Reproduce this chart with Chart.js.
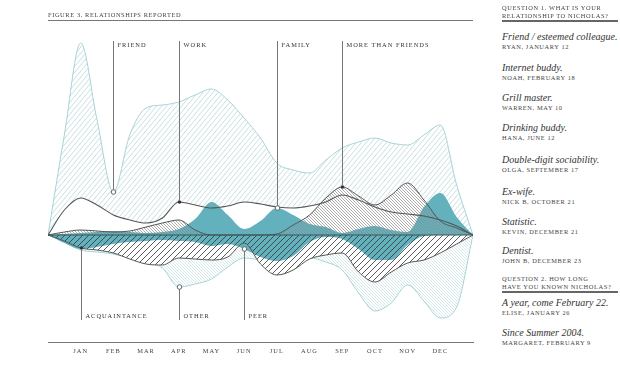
<!DOCTYPE html>
<html>
<head>
<meta charset="utf-8">
<script src="https://cdn.jsdelivr.net/npm/chart.js@4.4.0/dist/chart.umd.min.js"></script>
<style>
  body { margin:0; width:620px; height:372px; background:#fff; position:relative; overflow:hidden; font-family:"Liberation Serif", serif; }
  #wrap { position:absolute; left:0; top:0; width:480px; height:372px; }
  .caps { position:absolute; font-size:6.4px; letter-spacing:0.6px; color:#444; white-space:nowrap; line-height:8px; }
  .it { position:absolute; font-style:italic; font-size:10px; color:#333; white-space:nowrap; line-height:12px; }
  .rule { position:absolute; height:1px; background:#777; }
</style>
</head>
<body>
<div id="wrap"><canvas id="myChart" width="480" height="372"></canvas></div>
<div class="caps" style="left:48px;top:11px">FIGURE 3. RELATIONSHIPS REPORTED</div>
<div class="rule" style="left:48px;top:20px;width:425px"></div>
<div id="side"></div>
<script>
// months along the bottom
var months = ['JAN','FEB','MAR','APR','MAY','JUN','JUL','AUG','SEP','OCT','NOV','DEC'];
// half month steps, -1 = before jan, 12 = after dec
var xs = [-1,-0.5,0,0.5,1,1.5,2,2.5,3,3.5,4,4.5,5,5.5,6,6.5,7,7.5,8,8.5,9,9.5,10,10.5,11,11.5,12];

// above the line
var friend = [0,100,192,115,43,100,127,130,133,140,146,135,117,97,72,65,62,75,87,93,97,92,90,100,110,50,0];
var work = [0,25,37,30,20,15,12,17,33,30,27,29,33,31,28,27,29,33,40,35,28,23,21,19,15,9,0];
var family = [0,1,2,3,4,3,2,3,6,16,33,20,6,14,27,20,11,8,2,6,9,5,3,28,42,18,0];
var moreThanFriends = [0,3,5,4,3,4,8,12,15,5,0,0,0,0,1,10,20,37,48,39,30,40,52,35,14,7,0];
// below the line
var acquaintance = [0,-6,-13,-15,-18,-24,-29,-30,-23,-24,-25,-22,-8,-29,-40,-35,-24,-20,-18,-37,-47,-37,-28,-25,-18,-9,0];
var other = [0,-7,-15,-17,-19,-23,-27,-33,-52,-49,-44,-32,-23,-25,-28,-25,-23,-27,-35,-58,-76,-68,-50,-66,-83,-72,0];
var peer = [0,-8,-14,-12,-9,-7,-6,-5,-6,-7,-11,-9,-14,-22,-26,-21,-7,-2,-4,-14,-25,-25,-10,-1,0,0,0];

// callouts
var calloutNames = ['FRIEND','WORK','FAMILY','MORE THAN FRIENDS','ACQUAINTANCE','OTHER','PEER'];
var calloutMonths = [1,3,6,8,0,3,5];

// side panel text
var q1 = ['QUESTION 1. WHAT IS YOUR','RELATIONSHIP TO NICHOLAS?'];
var answers1 = ['Friend / esteemed colleague.','Internet buddy.','Grill master.','Drinking buddy.','Double-digit sociability.','Ex-wife.','Statistic.','Dentist.'];
var names1 = ['RYAN, JANUARY 12','NOAH, FEBRUARY 18','WARREN, MAY 10','HANA, JUNE 12','OLGA, SEPTEMBER 17','NICK B, OCTOBER 21','KEVIN, DECEMBER 21','JOHN B, DECEMBER 23'];
var q2 = ['QUESTION 2. HOW LONG','HAVE YOU KNOWN NICHOLAS?'];
var answers2 = ['A year, come February 22.','Since Summer 2004.'];
var names2 = ['ELISE, JANUARY 26','MARGARET, FEBRUARY 9'];

var TEAL = '#62b1bd';
var LIGHT = '#a9d2d7';
var DARK = '#555';

// side panel
var side = document.getElementById('side');
var html = '';
function capsAt(t, top) { return '<div class="caps" style="left:502px;top:' + top + 'px">' + t + '</div>'; }
function itAt(t, top) { return '<div class="it" style="left:502px;top:' + top + 'px">' + t + '</div>'; }
html += capsAt(q1[0], 4) + capsAt(q1[1], 12);
html += '<div class="rule" style="left:502px;top:20px;width:116px;height:1.5px;background:#666"></div>';
var tops1 = [31, 62, 92, 122, 154, 186, 216, 245];
for (var i = 0; i < answers1.length; i++) {
  html += itAt(answers1[i], tops1[i]) + capsAt(names1[i], tops1[i] + 12);
}
html += capsAt(q2[0], 275) + capsAt(q2[1], 283);
html += '<div class="rule" style="left:502px;top:291px;width:116px;height:1.5px;background:#666"></div>';
var tops2 = [297, 327];
for (var j = 0; j < answers2.length; j++) {
  html += itAt(answers2[j], tops2[j]) + capsAt(names2[j], tops2[j] + 12);
}
side.innerHTML = html;

// diagonal hatch patterns
function hatch(color, w, h, lw, dir) {
  var c = document.createElement('canvas');
  c.width = w; c.height = h;
  var g = c.getContext('2d');
  g.strokeStyle = color; g.lineWidth = lw;
  g.beginPath();
  for (var dx = -w; dx <= w; dx += w) {
    if (dir > 0) { g.moveTo(dx, h); g.lineTo(dx + w, 0); }
    else { g.moveTo(dx, 0); g.lineTo(dx + w, h); }
  }
  g.stroke();
  return g.createPattern(c, 'repeat');
}

function pts(arr) { return xs.map(function (x, i) { return { x: x, y: arr[i] }; }); }

function area(data, bg, line, lw, order) {
  return {
    data: pts(data), backgroundColor: bg, borderColor: line || 'rgba(0,0,0,0)',
    borderWidth: line ? lw : 0, fill: bg ? 'origin' : false, pointRadius: 0,
    cubicInterpolationMode: 'monotone', order: order
  };
}

var datasets = [
  area(work, null, DARK, 1.1, 1),                                   // work line on top
  area(moreThanFriends, hatch('#8a8a8a', 3, 3, 0.7, -1), DARK, 1, 2),
  area(acquaintance, hatch('#333', 6, 6, 0.8, 1), DARK, 1, 2),
  area(family, TEAL, null, 0, 3),
  area(peer, TEAL, null, 0, 3),
  area(moreThanFriends, '#fff', null, 0, 4),
  area(work, '#fff', null, 0, 5),
  area(acquaintance, '#fff', null, 0, 5),
  area(friend, hatch('#b8d7db', 5, 6, 0.8, 1), LIGHT, 1, 6),
  area(other, hatch('#b8d8dc', 3, 3, 0.6, -1), LIGHT, 1, 6)
];
// which series each callout points at, and open/filled marker
var calloutData = [friend, work, family, moreThanFriends, acquaintance, other, peer];
var calloutOpen = [true, false, true, false, false, true, true];

var callouts = {
  id: 'callouts',
  beforeDraw: function (chart) { chart.ctx.letterSpacing = '1px'; },
  afterDatasetsDraw: function (chart) {
    var ctx = chart.ctx, xS = chart.scales.x, yS = chart.scales.y, a = chart.chartArea;
    ctx.save();
    var y0 = yS.getPixelForValue(0);
    ctx.strokeStyle = '#35565b'; ctx.lineWidth = 1.2;
    ctx.beginPath(); ctx.moveTo(a.left, y0); ctx.lineTo(a.right, y0); ctx.stroke();

    ctx.font = '6.4px "Liberation Serif"';
    ctx.textBaseline = 'middle'; ctx.textAlign = 'left';
    ctx.letterSpacing = '1px';
    for (var i = 0; i < calloutNames.length; i++) {
      var m = calloutMonths[i];
      var v = calloutData[i][xs.indexOf(m)];
      var px = Math.round(xS.getPixelForValue(m)) + 0.5;
      var py = yS.getPixelForValue(v);
      var up = i < 4;
      ctx.strokeStyle = '#777'; ctx.lineWidth = 1;
      ctx.beginPath();
      if (up) { ctx.moveTo(px, 41); ctx.lineTo(px, py - 2); }
      else { ctx.moveTo(px, py + 2); ctx.lineTo(px, 320); }
      ctx.stroke();
      ctx.beginPath();
      ctx.arc(px, py, calloutOpen[i] ? 2.3 : 1.8, 0, Math.PI * 2);
      if (calloutOpen[i]) { ctx.fillStyle = '#fff'; ctx.fill(); ctx.strokeStyle = '#666'; ctx.stroke(); }
      else { ctx.fillStyle = '#333'; ctx.fill(); }
      ctx.fillStyle = '#333';
      ctx.fillText(calloutNames[i], px + 4, up ? 45 : 316);
    }
    ctx.restore();
  }
};

var ctx = document.getElementById('myChart');
var myChart = new Chart(ctx, {
  type: 'line',
  data: { datasets: datasets },
  options: {
    responsive: false,
    animation: false,
    layout: { padding: { left: 48, right: 7, top: 25, bottom: 0 } },
    plugins: { legend: { display: false }, tooltip: { enabled: false } },
    scales: {
      x: {
        type: 'linear', min: -1, max: 12,
        grid: { display: true, color: 'rgba(0,0,0,0)', drawTicks: false },
        border: { display: true, dash: [1, 2], color: '#777', width: 1 },
        afterFit: function (s) { s.height = 30; },
        ticks: {
          stepSize: 1, padding: 5, color: '#444', maxRotation: 0, autoSkip: false,
          font: { family: 'Liberation Serif', size: 6.4 },
          callback: function (v) { return months[v] || ''; }
        }
      },
      y: { display: false, min: -107, max: 210 }
    }
  },
  plugins: [callouts]
});
</script>
</body>
</html>
